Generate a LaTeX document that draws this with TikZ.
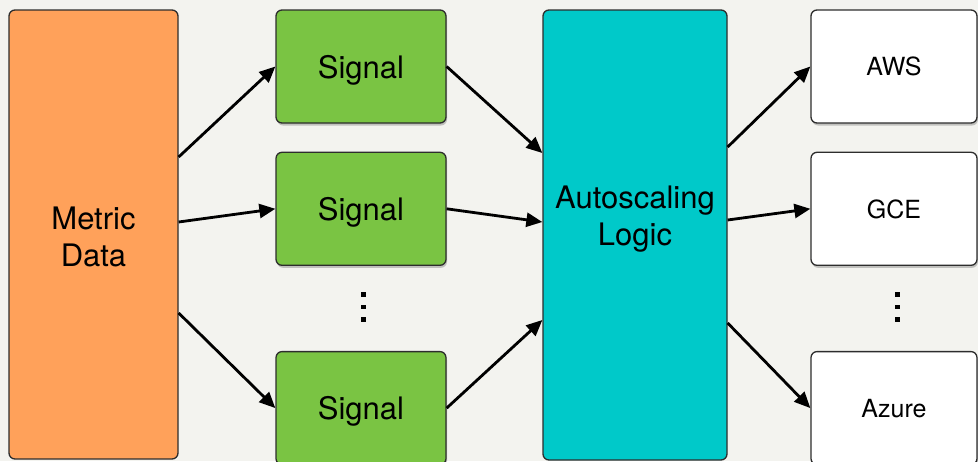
\documentclass[tikz,border=0pt]{standalone}
\usepackage{fontspec}
\setmainfont{TeX Gyre Heros}
\usetikzlibrary{arrows.meta,positioning,shadows}
\definecolor{bgcol}{RGB}{243,243,239}
\definecolor{metriccol}{RGB}{255,161,90}
\definecolor{signalcol}{RGB}{122,196,67}
\definecolor{logiccol}{RGB}{0,201,201}
\definecolor{edgecol}{RGB}{45,45,45}
\tikzset{
  % box style is used for every rounded block
  box/.style={draw=edgecol, line width=1.3pt, rectangle, rounded corners=6pt},
  shadowbox/.style={box, drop shadow={shadow xshift=1pt, shadow yshift=-2.5pt, opacity=0.3, fill=black!70}},
  bigtext/.style={font=\fontsize{31}{37}\selectfont, align=center, text depth=0pt},
  smalltext/.style={font=\fontsize{25}{28}\selectfont, text depth=0pt},
  dotmark/.style={fill=black},
  flow/.style={-{Triangle[length=16pt,width=14pt]}, line width=2.8pt}}

\begin{document}
\begin{tikzpicture}[x=1pt, y=-1pt]

\useasboundingbox (0,0) rectangle (978,461);
\fill [bgcol] (0,0) rectangle (978,461);

% input block
\draw (93.5,234.5) node (metric) [box, fill=metriccol, minimum width=169pt, minimum height=449pt] {};
\draw ([yshift=-2pt]metric.center) node (metrictext) [bigtext] {Metric\\Data};

% signal blocks
\draw (361,66.5) node (sig1) [shadowbox, fill=signalcol, minimum width=170pt, minimum height=113pt] {};
\node (sig2) [below=28pt of sig1, shadowbox, fill=signalcol, minimum width=170pt, minimum height=113pt] {};
\node (sig3) [below=85pt of sig2, shadowbox, fill=signalcol, minimum width=170pt, minimum height=113pt] {};
\draw (sig1) node (sig1text) [bigtext] {Signal};
\draw (sig2) node (sig2text) [bigtext] {Signal};
\draw (sig3) node (sig3text) [bigtext] {Signal};

% logic block
\draw (635,235) node (auto) [box, fill=logiccol, minimum width=184pt, minimum height=450pt] {};
\draw ([yshift=19pt]auto.center) node (autotext) [bigtext] {Autoscaling\\Logic};

% cloud blocks
\draw (894,66.5) node (aws) [shadowbox, fill=white, minimum width=166pt, minimum height=113pt] {};
\node (gce) [below=28pt of aws, shadowbox, fill=white, minimum width=166pt, minimum height=113pt] {};
\node (azure) [below=85pt of gce, shadowbox, fill=white, minimum width=166pt, minimum height=113pt] {};
\draw (aws) node (awstext) [smalltext] {AWS};
\draw (gce) node (gcetext) [smalltext] {GCE};
\draw (azure) node (azuretext) [smalltext] {Azure};

% vertical dots
\foreach \y in {292,304.5,317} {
  \fill [dotmark] (361,\y) rectangle +(4.5,4.5);
  \fill [dotmark] (895,\y) rectangle +(4.5,4.5);
}

% arrows
\draw [flow] ([yshift=77.5pt]metric.east) -- (sig1.west);
\draw [flow] ([yshift=12.5pt]metric.east) -- (sig2.west);
\draw [flow] ([yshift=-78.5pt]metric.east) -- (sig3.west);

\draw [flow] (sig1.east) -- ([yshift=82pt]auto.west);
\draw [flow] (sig2.east) -- ([yshift=13pt]auto.west);
\draw [flow] (sig3.east) -- ([yshift=-85pt]auto.west);

\draw [flow] ([yshift=88pt]auto.east) -- (aws.west);
\draw [flow] ([yshift=15pt]auto.east) -- (gce.west);
\draw [flow] ([yshift=-88pt]auto.east) -- (azure.west);

\end{tikzpicture}
\end{document}
